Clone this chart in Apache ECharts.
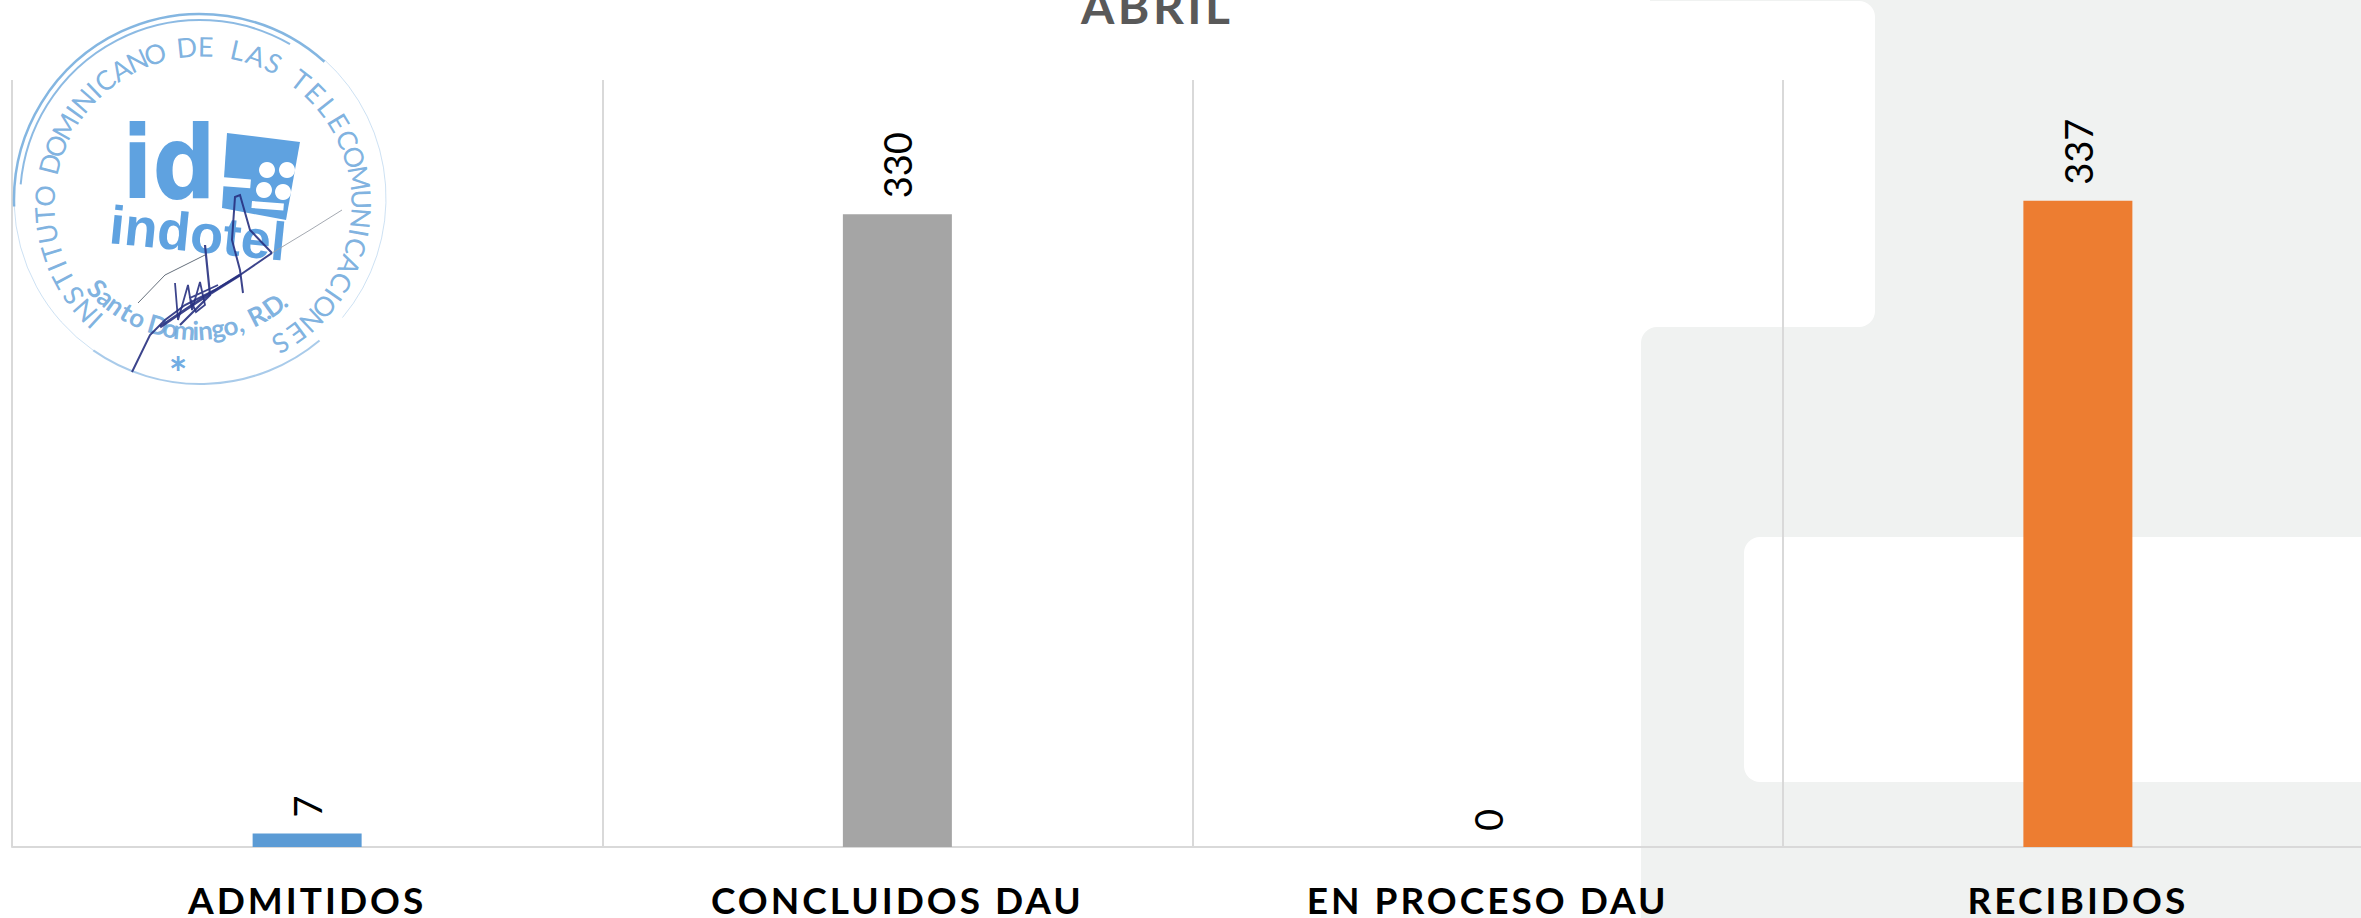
<!DOCTYPE html>
<html>
<head>
<meta charset="utf-8">
<style>
html,body{margin:0;padding:0;background:#fff;overflow:hidden}
#c{width:2361px;height:918px}
</style>
<script src="https://cdn.jsdelivr.net/npm/echarts@6/dist/echarts.min.js"></script>
</head>
<body>
<div id="c"></div>
<script>
const titleText = 'ABRIL';
const categories = ['ADMITIDOS', 'CONCLUIDOS DAU', 'EN PROCESO DAU', 'RECIBIDOS'];
const values = [7, 330, 0, 337];
const barColors = ['#5B9BD5', '#A5A5A5', '#FFC000', '#ED7D31'];
const stampRing = 'INSTITUTO DOMINICANO DE LAS TELECOMUNICACIONES';
const stampPlace = 'Santo Domingo, R.D.';
const INK = '#6FA9DC';
const LOGO = '#5FA2E0';
const PEN = '#27307F';

function letter(t, x, y, rot, size, weight, color) {
  return {type:'text', x, y, rotation:rot, z:20, silent:true,
    style:{text:t, fontFamily:'Lato', fontSize:size, fontWeight:weight||'normal',
      fill:color||INK, opacity:.9, align:'center', verticalAlign:'middle',
      textAlign:'center', textVerticalAlign:'middle'}};
}
function arcText(str, cx, cy, r, startDeg, endDeg, size, inward, weight) {
  const w = c => c === 'I' || c === 'i' || c === 'l' || c === ',' || c === '.' ? .55 : c === ' ' ? .7 : c === 'M' || c === 'm' ? 1.25 : 1;
  const total = [...str].reduce((a,c)=>a+w(c),0);
  let acc = 0; const out = [];
  for (const c of str) {
    const a = startDeg + (endDeg-startDeg)*(acc + w(c)/2)/total;
    acc += w(c);
    if (c === ' ') continue;
    const rad = a*Math.PI/180;
    const x = cx + r*Math.sin(rad), y = cy - r*Math.cos(rad);
    out.push(letter(c, x, y, inward ? -rad+Math.PI : -rad, size, weight));
  }
  return out;
}
function line(points, color, width) {
  return {type:'polyline', z:21, silent:true, shape:{points},
    style:{stroke:color, lineWidth:width, fill:null, opacity:.9}};
}
function arc(cx, cy, r, a0, a1, width, op) {
  return {type:'arc', z:20, silent:true, shape:{cx, cy, r, startAngle:a0*Math.PI/180, endAngle:a1*Math.PI/180},
    style:{stroke:INK, lineWidth:width, fill:null, opacity:op}};
}
const tileDots = [[267,170],[287,170],[264,190],[283,192]].map(([x,y]) =>
  ({type:'circle', z:21, silent:true, shape:{cx:x, cy:y, r:8}, style:{fill:'#fff'}}));

const stamp = [
  arc(200,200,186,178,312,2.5,.85),
  arc(200,200,180,185,300,2,.8),
  arc(200,198,186,312,400,1,.35),
  arc(200,198,186,125,178,1,.35),
  arc(200,198,186,50,125,2,.6),
  ...arcText(stampRing, 203, 205, 159, -139, 154, 27, false),
  {type:'text', x:169, y:163, z:20, silent:true, scaleY:1.24, scaleX:1.08,
    style:{text:'id', fontFamily:'DejaVu Sans', fontWeight:'bold', fontSize:82, fill:LOGO,
      align:'center', verticalAlign:'middle', textAlign:'center', textVerticalAlign:'middle'}},
  {type:'polygon', z:20, silent:true, shape:{points:[[227,133],[300,142],[286,220],[222,208]]}, style:{fill:LOGO}},
  {type:'rect', z:21, silent:true, rotation:-.08, x:221, y:177, shape:{x:0,y:0,width:30,height:9}, style:{fill:'#fff'}},
  {type:'rect', z:21, silent:true, rotation:-.08, x:252, y:201, shape:{x:0,y:0,width:32,height:7}, style:{fill:'#fff'}},
  ...tileDots,
  {type:'text', x:198, y:233, rotation:-.1, z:21, silent:true,
    style:{text:'indotel', fontFamily:'Liberation Sans', fontWeight:'bold', fontSize:54, fill:LOGO,
      align:'center', verticalAlign:'middle', textAlign:'center', textVerticalAlign:'middle'}},
  ...arcText(stampPlace, 195, 195, 135, 229, 139, 26, true, 'bold'),
  letter('*', 178, 372, 0, 44, 'bold', LOGO),
  line([[132,372],[150,335],[165,320],[185,305],[215,290],[240,275],[272,253]], PEN, 2),
  line([[272,253],[250,230],[240,195],[235,197],[232,240],[240,270],[243,293]], PEN, 2),
  line([[205,245],[208,275],[210,295],[190,315],[180,325]], PEN, 2.2),
  line([[175,283],[178,320],[188,285],[192,310],[200,282],[205,305],[196,312],[190,298],[218,285]], PEN, 1.8),
  line([[160,327],[185,310],[200,300],[240,275]], PEN, 2.8),
  line([[138,303],[165,275],[205,255]], '#55606E', 1),
  line([[272,253],[310,230],[342,210]], '#9AA0A8', 1)
];

const GRAY = '#F0F2F1';
const chart = echarts.init(document.getElementById('c'), null, {renderer:'svg'});
chart.setOption({
  animation:false,
  backgroundColor:'#fff',
  title:{text:titleText, left:1081, top:-19, padding:0,
    textStyle:{fontFamily:'Lato', fontWeight:'bold', fontSize:48, color:'#595959'}},
  grid:{left:12, top:80, width:2361, height:767, outerBoundsMode:'none'},
  xAxis:{type:'category', data:categories, boundaryGap:true,
    axisTick:{show:false},
    axisLine:{show:true, lineStyle:{color:'#D9D9D9', width:2}},
    splitLine:{show:true, lineStyle:{color:'#D9D9D9', width:2}},
    axisLabel:{interval:0, margin:34, color:'#000', fontFamily:'Lato', fontWeight:'bold', fontSize:37}},
  yAxis:{type:'value', show:false, min:0, max:400, splitLine:{show:false}},
  graphic:{elements:[
    {type:'rect', z:-10, silent:true, shape:{x:1800, y:0, width:561, height:400}, style:{fill:GRAY}},
    {type:'rect', z:-9, silent:true, shape:{x:1600, y:1, width:275, height:326, r:[0,16,16,0]}, style:{fill:'#fff'}},
    {type:'rect', z:-8, silent:true, shape:{x:1641, y:327, width:720, height:591, r:[16,0,0,0]}, style:{fill:GRAY}},
    {type:'rect', z:-8, silent:true, shape:{x:1650, y:0, width:225, height:1}, style:{fill:GRAY}},
    {type:'rect', z:-7, silent:true, shape:{x:1744, y:537, width:700, height:245, r:16}, style:{fill:'#fff'}},
    {type:'group', children:stamp}
  ]},
  series:[{type:'bar', barWidth:109, z:5,
    data:values.map((v,i)=>({value:v, itemStyle:{color:barColors[i]}})),
    label:{show:true, position:'top', distance:18, rotate:90, align:'left', verticalAlign:'middle',
      color:'#000', fontFamily:'Lato', fontSize:38, offset:[-2,0]}}]
});
function spaceBoldText() {
  document.querySelectorAll('#c text').forEach(t => {
    const cs = getComputedStyle(t);
    if (parseInt(cs.fontWeight) < 700) return;
    if (cs.fontSize === '37px') t.style.letterSpacing = '3px';
    if (cs.fontSize === '48px') t.style.letterSpacing = '3.5px';
  });
}
spaceBoldText();
chart.on('finished', spaceBoldText);
</script>
</body>
</html>
